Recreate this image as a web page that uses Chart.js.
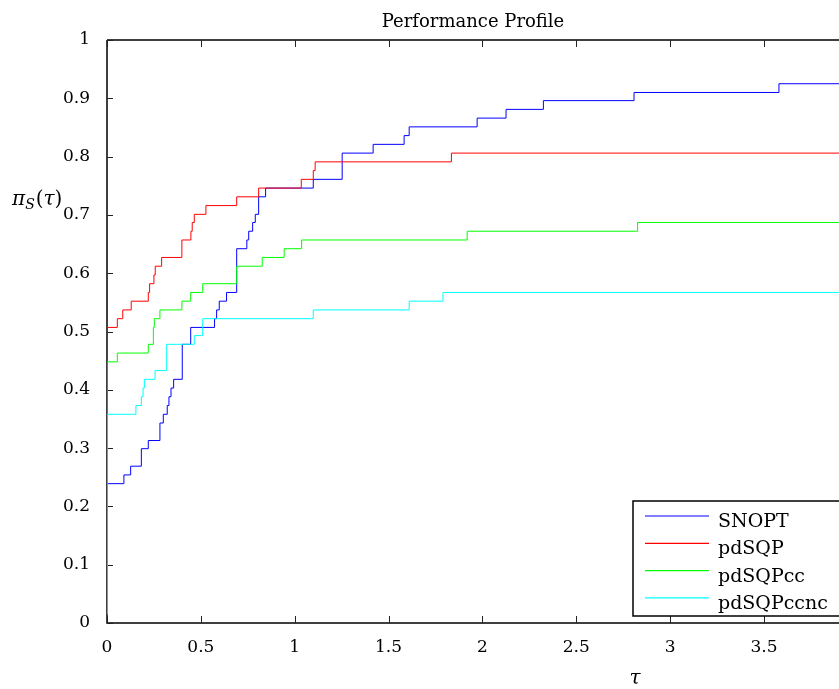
<!DOCTYPE html>
<html>
<head>
<meta charset="utf-8">
<title>Performance Profile</title>
<script src="https://cdn.jsdelivr.net/npm/chart.js@4.4.0/dist/chart.umd.min.js"></script>
<style>
    html, body { margin: 0; padding: 0; background: #fff; overflow: hidden; }
    #wrap { width: 839px; height: 689px; position: relative; }
</style>
</head>
<body>
<div id="wrap"><canvas id="chart"></canvas></div>
<script>
// Series (tau where each step happens, pi after the step)
const seriesNames = ['SNOPT', 'pdSQP', 'pdSQPcc', 'pdSQPccnc'];
const seriesColors = ['#0000ff', '#ff0000', '#00ff00', '#00ffff'];

const snoptTau = [0, 0, 0.09, 0.126, 0.183, 0.220, 0.282, 0.300, 0.321, 0.330, 0.341, 0.355, 0.401, 0.446, 0.573, 0.584, 0.598, 0.637, 0.691, 0.745, 0.755, 0.776, 0.790, 0.808, 0.845, 1.099, 1.253, 1.418, 1.583, 1.610, 1.972, 2.126, 2.325, 2.808, 3.580, 3.9];
const snoptPi = [0.015, 0.239, 0.254, 0.269, 0.299, 0.313, 0.343, 0.358, 0.373, 0.388, 0.403, 0.418, 0.478, 0.507, 0.522, 0.537, 0.552, 0.567, 0.642, 0.657, 0.672, 0.687, 0.701, 0.731, 0.746, 0.761, 0.806, 0.821, 0.836, 0.851, 0.866, 0.881, 0.896, 0.910, 0.925, 0.925];

const pdsqpTau = [0, 0, 0.055, 0.084, 0.129, 0.220, 0.227, 0.250, 0.257, 0.291, 0.399, 0.447, 0.454, 0.465, 0.527, 0.691, 0.808, 1.035, 1.099, 1.109, 1.835, 3.9];
const pdsqpPi = [0.015, 0.507, 0.522, 0.537, 0.552, 0.567, 0.582, 0.597, 0.612, 0.627, 0.657, 0.672, 0.687, 0.701, 0.716, 0.731, 0.746, 0.761, 0.776, 0.791, 0.806, 0.806];

const pdsqpccTau = [0, 0, 0.055, 0.220, 0.247, 0.252, 0.282, 0.399, 0.446, 0.510, 0.691, 0.827, 0.944, 1.037, 1.919, 2.827, 3.9];
const pdsqpccPi = [0.015, 0.448, 0.463, 0.478, 0.507, 0.522, 0.537, 0.552, 0.567, 0.582, 0.612, 0.627, 0.642, 0.657, 0.672, 0.687, 0.687];

const pdsqpccncTau = [0, 0, 0.154, 0.183, 0.192, 0.199, 0.256, 0.318, 0.465, 0.510, 1.099, 1.610, 1.790, 3.9];
const pdsqpccncPi = [0.015, 0.358, 0.373, 0.388, 0.403, 0.418, 0.433, 0.478, 0.493, 0.522, 0.537, 0.552, 0.567, 0.567];

const xTicks = [0, 0.5, 1, 1.5, 2, 2.5, 3, 3.5];
const yTicks = [0, 0.1, 0.2, 0.3, 0.4, 0.5, 0.6, 0.7, 0.8, 0.9, 1];

const FONT = "'DejaVu Serif', 'Liberation Serif', serif";

function toPoints(tau, pi) {
    return tau.map((t, i) => ({ x: t, y: pi[i] }));
}

// MATLAB style labels: 0, 0.5, 1 (no trailing .0)
function tickText(v) {
    return String(parseFloat(Number(v).toFixed(2)));
}

const allTau = [snoptTau, pdsqpTau, pdsqpccTau, pdsqpccncTau];
const allPi = [snoptPi, pdsqpPi, pdsqpccPi, pdsqpccncPi];

const datasets = seriesNames.map((name, i) => ({
    label: name,
    data: toPoints(allTau[i], allPi[i]),
    borderColor: seriesColors[i],
    backgroundColor: seriesColors[i],
    borderWidth: 1,
    pointRadius: 0,
    fill: false,
    stepped: 'before',
    order: seriesNames.length - i
}));

// Axes box and inward ticks, drawn under the curves like MATLAB does
const framePlugin = {
    id: 'frame',
    beforeDatasetsDraw(chart) {
        const { ctx, chartArea: a, scales } = chart;
        ctx.save();
        ctx.strokeStyle = '#000';
        ctx.lineWidth = 1.5;
        ctx.beginPath();
        ctx.moveTo(a.left, a.top);
        ctx.lineTo(a.right, a.top);
        ctx.moveTo(a.left, a.top);
        ctx.lineTo(a.left, a.bottom);
        ctx.lineTo(a.right, a.bottom);
        ctx.stroke();

        ctx.lineWidth = 1;
        ctx.strokeStyle = '#222';
        ctx.beginPath();
        xTicks.forEach(v => {
            const px = Math.round(scales.x.getPixelForValue(v)) + 0.5;
            ctx.moveTo(px, a.bottom);
            ctx.lineTo(px, a.bottom - 7);
            ctx.moveTo(px, a.top);
            ctx.lineTo(px, a.top + 7);
        });
        yTicks.forEach(v => {
            const py = Math.round(scales.y.getPixelForValue(v)) + 0.5;
            ctx.moveTo(a.left, py);
            ctx.lineTo(a.left + 6, py);
        });
        ctx.stroke();
        ctx.restore();
    },
    afterDraw(chart) {
        const { ctx, chartArea: a } = chart;
        ctx.save();

        // title
        ctx.fillStyle = '#000';
        ctx.font = `18px ${FONT}`;
        ctx.textAlign = 'center';
        ctx.textBaseline = 'alphabetic';
        ctx.fillText('Performance Profile', (a.left + a.right) / 2, 27);

        // y label: pi_S(tau)
        ctx.textAlign = 'left';
        let xx = 12;
        ctx.font = `italic 20px ${FONT}`;
        ctx.fillText('π', xx, 205);
        xx += ctx.measureText('π').width;
        ctx.font = `italic 14px ${FONT}`;
        ctx.fillText('S', xx, 209);
        xx += ctx.measureText('S').width + 1;
        ctx.font = `20px ${FONT}`;
        ctx.fillText('(', xx, 205);
        xx += ctx.measureText('(').width;
        ctx.font = `italic 20px ${FONT}`;
        ctx.fillText('τ', xx, 205);
        xx += ctx.measureText('τ').width;
        ctx.font = `20px ${FONT}`;
        ctx.fillText(')', xx, 205);

        // x label
        ctx.font = `italic 20px ${FONT}`;
        ctx.textAlign = 'center';
        ctx.fillText('τ', 635, 684);

        // legend box
        const lx = 633, ly = 501, lw = 220, lh = 115;
        ctx.fillStyle = '#fff';
        ctx.fillRect(lx, ly, lw, lh);
        ctx.strokeStyle = '#000';
        ctx.lineWidth = 1.5;
        ctx.strokeRect(lx, ly, lw, lh);
        ctx.font = `19px ${FONT}`;
        ctx.textAlign = 'left';
        seriesNames.forEach((name, i) => {
            const y = 516 + i * 27.3;
            ctx.strokeStyle = seriesColors[i];
            ctx.lineWidth = 1.2;
            ctx.beginPath();
            ctx.moveTo(645, y);
            ctx.lineTo(709, y);
            ctx.stroke();
            ctx.fillStyle = '#000';
            ctx.fillText(name, 718, y + 11);
        });
        ctx.restore();
    }
};

function initChart() {
    const ctx = document.getElementById('chart').getContext('2d');
    return new Chart(ctx, {
        type: 'line',
        data: { datasets },
        options: {
            responsive: true,
            maintainAspectRatio: false,
            animation: false,
            layout: { padding: { top: 40, right: 0, left: 0, bottom: 0 } },
            scales: {
                x: {
                    type: 'linear',
                    min: 0,
                    max: 3.9,
                    afterBuildTicks: scale => { scale.ticks = xTicks.map(v => ({ value: v })); },
                    afterFit: scale => { scale.height = 66; },
                    ticks: { color: '#000', padding: 6, font: { family: FONT, size: 17 }, maxRotation: 0, callback: tickText },
                    grid: { display: false },
                    border: { display: false }
                },
                y: {
                    min: 0,
                    max: 1,
                    afterBuildTicks: scale => { scale.ticks = yTicks.map(v => ({ value: v })); },
                    afterFit: scale => { scale.width = 107; },
                    ticks: { color: '#000', padding: 9, font: { family: FONT, size: 17 }, callback: tickText },
                    grid: { display: false },
                    border: { display: false }
                }
            },
            plugins: {
                legend: { display: false },
                tooltip: { enabled: false }
            }
        },
        plugins: [framePlugin]
    });
}

document.addEventListener('DOMContentLoaded', () => {
    initChart();
});
</script>
</body>
</html>
